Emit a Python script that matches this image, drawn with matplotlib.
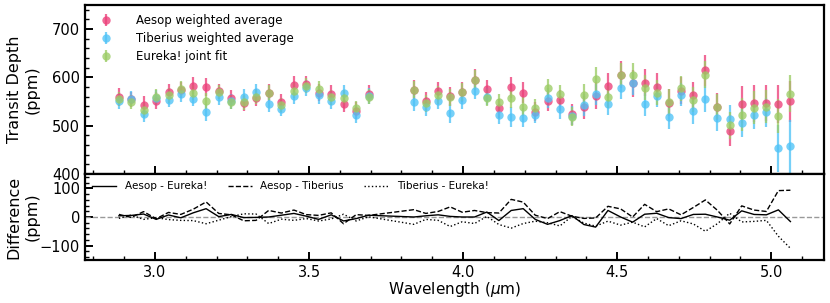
import matplotlib
matplotlib.use("Agg")
import matplotlib.pyplot as plt
from matplotlib.ticker import AutoMinorLocator, MultipleLocator
import numpy as np

# ---------------- data ----------------
wavelength = [2.883, 2.923, 2.963, 3.004, 3.044, 3.084, 3.124, 3.166, 3.207, 3.248,
              3.288, 3.328, 3.369, 3.410, 3.451, 3.491, 3.531, 3.572, 3.612, 3.653,
              3.693,
              3.840, 3.879, 3.919, 3.958, 3.997, 4.037, 4.077, 4.116, 4.156, 4.195,
              4.234, 4.274, 4.314, 4.353, 4.392, 4.430, 4.470, 4.511, 4.550, 4.589,
              4.628, 4.667, 4.707, 4.747, 4.786, 4.825, 4.865, 4.904, 4.944, 4.984,
              5.023, 5.062]

aesop = [559.6, 554.7, 543.0, 552.0, 570.0, 574.1, 583.1, 580.3, 571.3, 558.2,
         546.4, 558.2, 568.6, 549.2, 585.2, 585.9, 568.6, 566.5, 544.4, 531.2,
         566.5,
         574.8, 550.6, 571.3, 561.0, 570.0, 595.5, 575.5, 536.1, 579.6, 568.6,
         529.2, 552.0, 552.7, 523.6, 538.1, 561.7, 582.4, 605.9, 587.9, 588.6,
         581.0, 547.1, 572.0, 563.0, 614.9, 539.5, 489.7, 544.4, 546.4, 547.1,
         545.1, 550.6]
aesop_err = [18, 16, 18, 17, 16, 16, 17, 19, 16, 16,
             16, 17, 17, 16, 17, 17, 17, 17, 17, 17,
             17,
             19, 19, 20, 20, 20, 22, 20, 20, 22, 22,
             20, 22, 22, 22, 24, 28, 26, 28, 28, 28,
             28, 28, 28, 28, 32, 28, 32, 38, 38, 38,
             40, 42]

tiberius = [550.6, 556.1, 524.3, 558.0, 554.0, 565.1, 556.1, 527.8, 558.9, 550.6,
            559.6, 570.0, 545.7, 535.4, 561.0, 577.6, 563.0, 552.0, 567.9, 522.9,
            561.0,
            549.2, 538.1, 552.0, 525.7, 553.4, 572.7, 560.3, 522.2, 518.1, 516.7,
            522.9, 557.5, 534.0, 520.9, 543.0, 565.1, 545.1, 577.6, 587.9, 544.4,
            562.4, 518.8, 564.4, 529.8, 555.4, 516.0, 513.9, 505.6, 522.2, 527.8,
            453.1, 457.2]
tiberius_err = [16, 16, 17, 16, 16, 16, 16, 18, 16, 16,
                17, 17, 17, 16, 17, 17, 17, 17, 17, 17,
                17,
                18, 18, 18, 20, 18, 18, 18, 18, 20, 20,
                18, 20, 20, 20, 22, 22, 22, 22, 24, 24,
                24, 26, 24, 26, 26, 26, 28, 30, 30, 30,
                48, 55]

eureka = [555.4, 549.2, 532.6, 560.3, 563.0, 576.9, 568.6, 551.3, 570.0, 549.2,
          548.5, 559.6, 568.6, 543.0, 572.7, 583.0, 576.9, 558.9, 558.2, 536.8,
          560.3,
          574.8, 546.4, 563.7, 558.9, 570.0, 595.5, 558.2, 548.5, 556.8, 539.5,
          537.5, 577.6, 565.1, 518.8, 564.4, 596.9, 559.6, 605.9, 605.9, 578.9,
          567.9, 549.2, 577.6, 554.0, 605.2, 539.5, 500.8, 522.9, 537.5, 539.5,
          520.2, 566.5]
eureka_err = [15, 15, 15, 15, 15, 15, 15, 16, 15, 15,
              15, 15, 15, 15, 15, 15, 15, 15, 15, 15,
              15,
              18, 18, 18, 18, 18, 20, 18, 18, 20, 20,
              18, 20, 20, 20, 22, 24, 22, 24, 24, 26,
              26, 26, 26, 26, 28, 26, 28, 34, 34, 34,
              36, 38]

diff_aesop_eureka = [4.2, 5.5, 10.4, -8.3, 7.0, -2.8, 14.5, 29.0, 1.3, 9.0,
                     -2.1, -1.4, 0.0, 6.2, 12.5, 2.9, -8.3, 7.6, -13.8, -5.6,
                     6.2,
                     0.0, 4.2, 7.6, 2.1, 0.0, 0.0, 17.3, -12.4, 22.8, 29.1,
                     -8.3, -25.6, -12.4, 4.8, -26.3, -35.2, 22.8, 0.0, -18.0, 9.7,
                     13.1, -2.1, -5.6, 9.0, 9.7, 0.0, -11.1, 21.5, 8.9, 7.6,
                     24.9, -15.9]
diff_aesop_tiberius = [9.0, -1.4, 18.7, -6.0, 16.0, 9.0, 27.0, 52.5, 12.4, 7.6,
                       -13.2, -11.8, 22.9, 13.8, 24.2, 8.3, 5.6, 14.5, -23.5, 8.3,
                       5.5,
                       25.6, 12.5, 19.3, 35.3, 16.6, 22.8, 15.2, 13.9, 61.5, 51.9,
                       6.3, -5.5, 18.7, 2.7, -4.9, -3.4, 37.3, 28.3, 0.0, 44.2,
                       18.6, 28.3, 7.6, 33.2, 59.5, 23.5, -24.2, 38.8, 24.2, 19.3,
                       92.0, 93.4]
diff_tiberius_eureka = [-4.8, 6.9, -8.3, -2.3, -9.0, -11.8, -12.5, -23.5, -11.1, 1.4,
                        11.1, 10.4, -22.9, -7.6, -11.7, -5.4, -13.9, -6.9, 9.7, -13.9,
                        0.7,
                        -25.6, -8.3, -11.7, -33.2, -16.6, -22.8, 2.1, -26.3, -38.7, -22.8,
                        -14.6, -20.1, -31.1, 2.1, -21.4, -31.8, -14.5, -28.3, -18.0, -34.5,
                        -5.5, -30.4, -13.2, -24.2, -49.8, -23.5, 13.1, -17.3, -15.3, -11.7,
                        -67.1, -109.3]

labels_top = ["Aesop weighted average", "Tiberius weighted average", "Eureka! joint fit"]
labels_diff = ["Aesop - Eureka!", "Aesop - Tiberius", "Tiberius - Eureka!"]

# ---------------- style ----------------
c_aesop = "#EC407A"
c_tib = "#4FC3F7"
c_eur = "#9CCC65"

fig = plt.figure(figsize=(8.30, 3.03), dpi=100)
ax1 = fig.add_axes([85 / 830, 1 - 174 / 303, (824 - 85) / 830, (174 - 5) / 303])
ax2 = fig.add_axes([85 / 830, 1 - 260 / 303, (824 - 85) / 830, (260 - 174) / 303], sharex=ax1)

ekw = dict(fmt="o", ms=6, elinewidth=1.6, capsize=0, alpha=0.78, mew=0)
ax1.errorbar(wavelength, aesop, yerr=aesop_err, color=c_aesop, label=labels_top[0], **ekw)
ax1.errorbar(wavelength, tiberius, yerr=tiberius_err, color=c_tib, label=labels_top[1], **ekw)
ax1.errorbar(wavelength, eureka, yerr=eureka_err, color=c_eur, label=labels_top[2], **ekw)

ax1.set_xlim(2.773, 5.171)
ax1.set_ylim(400, 750)
ax1.yaxis.set_major_locator(MultipleLocator(100))
ax1.set_ylabel("Transit Depth\n(ppm)", fontsize=11.5)
ax1.legend(loc="upper left", frameon=False, fontsize=8.5, handletextpad=1.5,
           borderaxespad=0.4, labelspacing=0.4)
plt.setp(ax1.get_xticklabels(), visible=False)

ax2.axhline(0, color="0.6", ls="--", lw=1)
ax2.plot(wavelength, diff_aesop_eureka, color="k", ls="-", lw=1, label=labels_diff[0])
ax2.plot(wavelength, diff_aesop_tiberius, color="k", ls="--", lw=1, label=labels_diff[1])
ax2.plot(wavelength, diff_tiberius_eureka, color="k", ls=":", lw=1, label=labels_diff[2])
ax2.set_ylim(-150, 150)
ax2.yaxis.set_major_locator(MultipleLocator(100))
ax2.set_ylabel("Difference\n(ppm)", fontsize=11.5)
ax2.set_xlabel(r"Wavelength ($\mu$m)", fontsize=11, labelpad=0)
ax2.legend(loc="upper left", ncol=3, frameon=False, fontsize=7.5, handlelength=2.3,
           columnspacing=2.0, borderaxespad=0.3)

for ax in (ax1, ax2):
    ax.xaxis.set_major_locator(MultipleLocator(0.5))
    ax.xaxis.set_minor_locator(AutoMinorLocator(5))
    ax.yaxis.set_minor_locator(AutoMinorLocator(5))
    ax.tick_params(which="both", direction="in", labelsize=10.5)
    ax.tick_params(which="major", length=6, width=1.4)
    ax.tick_params(which="minor", length=3, width=1.0)
    for s in ax.spines.values():
        s.set_linewidth(1.6)
    ax.yaxis.set_label_coords(-0.062, 0.5)

fig.savefig("out.png", dpi=100)
